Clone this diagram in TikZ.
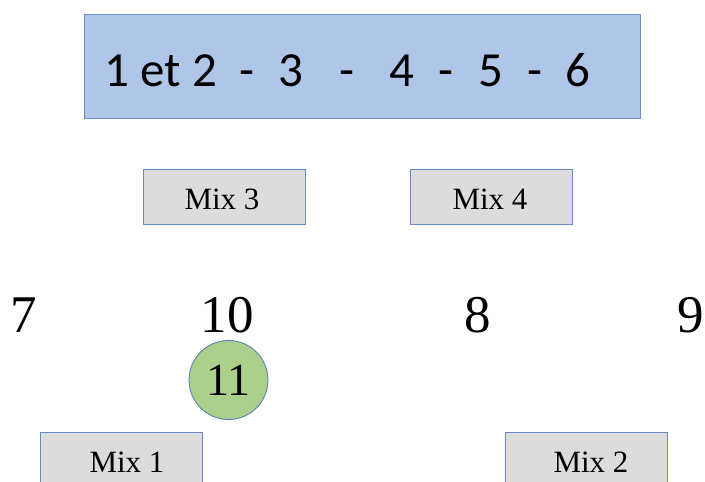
\documentclass[tikz,border=0pt]{standalone}
\usepackage{fontspec}
\setmainfont{Liberation Serif}
\newfontfamily\carlfont{Carlito}
\definecolor{topfill}{RGB}{176,198,232}
\definecolor{topline}{RGB}{108,142,201}
\definecolor{mixfill}{RGB}{220,220,220}
\definecolor{mixline}{RGB}{100,138,200}
\definecolor{greenfill}{RGB}{170,208,140}
\definecolor{circline}{RGB}{80,120,190}
\begin{document}
\begin{tikzpicture}[x=1pt,y=-1pt,
  topbox/.style={draw=topline,fill=topfill,line width=1pt,minimum width=556pt,minimum height=104pt,inner sep=0pt},
  mixbox/.style={draw=mixline,fill=mixfill,line width=1pt,minimum width=162pt,minimum height=55pt,inner sep=0pt},
  mixtxt/.style={anchor=base,inner sep=0pt,font=\fontsize{31}{34}\selectfont},
  toptxt/.style={anchor=base,inner sep=0pt,font=\carlfont\fontsize{49}{56}\selectfont},
  numtxt/.style={anchor=base,inner sep=0pt,font=\fontsize{53}{60}\selectfont},
  ball/.style={circle,draw=circline,fill=greenfill,line width=0.8pt,minimum size=79pt,inner sep=0pt,font=\fontsize{46}{50}\selectfont}
]
\useasboundingbox (0,0) rectangle (705,482);
\clip (0,0) rectangle (705,482);
\node[topbox] (top) at (362.5,66) {};
\node[toptxt] (t12) at (161,86) {1 et 2};
\node[toptxt] (d1) at (247,86) {-};
\node[toptxt] (t3) at (291,86) {3};
\node[toptxt] (d2) at (347,86) {-};
\node[toptxt] (t4) at (402,86) {4};
\node[toptxt] (d3) at (446,86) {-};
\node[toptxt] (t5) at (491,86) {5};
\node[toptxt] (d4) at (535,86) {-};
\node[toptxt] (t6) at (578,86) {6};

\node[mixbox] (mix3) at (224,196.5) {};
\node[mixtxt] (mix3t) at (222,209) {Mix 3};
\node[mixbox] (mix4) at (491.5,196.5) {};
\node[mixtxt] (mix4t) at (490,209) {Mix 4};

\node[numtxt] (n7) at (24,332) {7};
\node[numtxt] (n10) at (227,332) {10};
\node[numtxt] (n8) at (478,332) {8};
\node[numtxt] (n9) at (691,332) {9};

\node[ball] (n11) at (228.5,380) {11};

\node[mixbox] (mix1) at (121.5,459.5) {};
\node[mixtxt] (mix1t) at (127,472) {Mix 1};
\node[mixbox] (mix2) at (586,459.5) {};
\node[mixtxt] (mix2t) at (591,472) {Mix 2};
\end{tikzpicture}
\end{document}
